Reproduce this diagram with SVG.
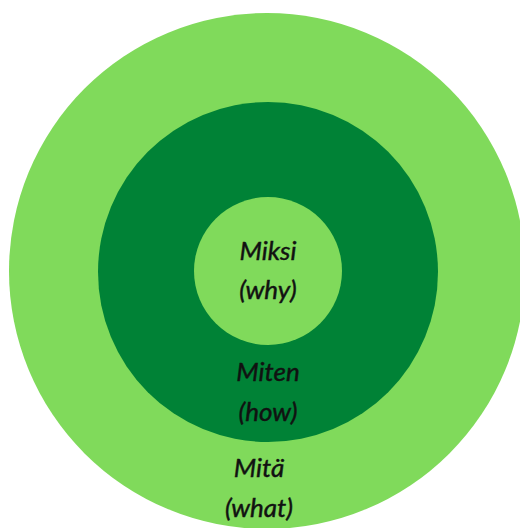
<svg xmlns="http://www.w3.org/2000/svg" width="520" height="528" viewBox="0 0 520 528">
  <style>
    .light { fill: #80DA5B; }
    .dark { fill: #008236; }
    .lbl { font-family: Lato, "Open Sans", "Liberation Sans", sans-serif; font-style: italic; font-size: 26px; fill: #111111; stroke: #111111; stroke-width: 0.45; text-anchor: middle; }
  </style>
  <rect width="520" height="528" fill="#ffffff"/>
  <g id="what">
    <circle class="light" cx="267" cy="271" r="258"/>
    <text class="lbl" x="259" y="477">Mitä</text>
    <text class="lbl" x="259" y="517">(what)</text>
  </g>
  <g id="how">
    <circle class="dark" cx="268" cy="272" r="170"/>
    <text class="lbl" x="268" y="381">Miten</text>
    <text class="lbl" x="268" y="421">(how)</text>
  </g>
  <g id="why">
    <circle class="light" cx="268" cy="271" r="74"/>
    <text class="lbl" x="268" y="260">Miksi</text>
    <text class="lbl" x="268" y="299">(why)</text>
  </g>
  <g id="connectors"/>
</svg>
